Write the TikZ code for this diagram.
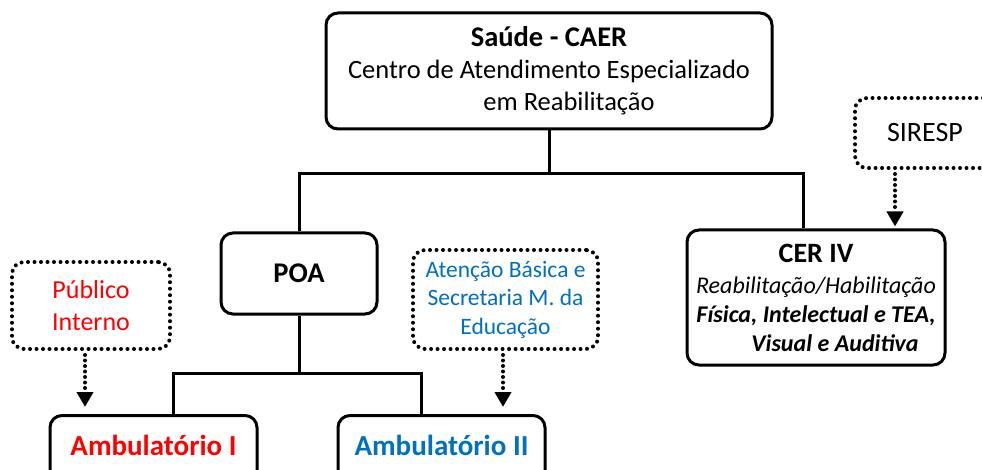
\documentclass[tikz,border=0pt]{standalone}
\usepackage{fontspec}
\setmainfont{Carlito}
\usepackage{tikz}
\usepackage{xcolor}
\usetikzlibrary{arrows.meta}
\definecolor{ambred}{RGB}{255,0,0}
\definecolor{ambblue}{RGB}{0,112,192}

\begin{document}
\begin{tikzpicture}[x=1pt,y=-1pt,
                            box/.style={draw,line width=3pt,rounded corners=12pt,align=center,inner sep=0pt},
                            src/.style={draw,line width=4pt,line cap=round,dash pattern=on 0pt off 6.5pt,
                                        rounded corners=12pt,align=center,inner sep=0pt},
                            conn/.style={line width=3pt},
                            feed/.style={line width=4pt,dash pattern=on 0pt off 5.5pt,line cap=round,
                                        -{Triangle[width=16pt,length=15pt]}}]
                            % Page
                            \clip (0,0) rectangle (982,470);

                            % Boxes
                            \node[box,minimum width=446,minimum height=116,
                                  font=\fontsize{26.5}{32}\selectfont] (caer) at (549,71)
                                  {{\fontsize{28.5}{32}\selectfont\bfseries Saúde - CAER}\\
                                  Centro de Atendimento Especializado\\
                                  \hspace*{40pt}em Reabilitação};
                            \node[box,minimum width=156,minimum height=81,
                                  font=\fontsize{28.5}{34}\selectfont\bfseries] (poa) at (299,273.5) {POA};
                            \node[box,minimum width=258,minimum height=135,
                                  font=\fontsize{24}{29}\selectfont] (cer) at (816,297.5)
                                  {{\fontsize{28}{29}\selectfont\bfseries CER IV}\\[2pt]
                                  \itshape Reabilitação/Habilitação\\
                                  \bfseries\itshape Física, Intelectual e TEA,\\
                                  \hspace*{38pt}\bfseries\itshape Visual e Auditiva};
                            \node[box,anchor=north,minimum width=207,text height=40pt,text depth=60pt,
                                  text=ambred,font=\fontsize{29}{34}\selectfont\bfseries] (amb1) at (153.5,414)
                                  {Ambulatório I};
                            \node[box,anchor=north,minimum width=207,text height=40pt,text depth=60pt,
                                  text=ambblue,font=\fontsize{29}{34}\selectfont\bfseries] (amb2) at (441.5,414)
                                  {Ambulatório II};

                            % Sources
                            \node[src,minimum width=158,minimum height=87,text=ambred,
                                  font=\fontsize{26}{31.5}\selectfont] (pub) at (91,305.5) {Público\\Interno};
                            \node[src,minimum width=185,minimum height=99,text=ambblue,
                                  font=\fontsize{23.5}{28.5}\selectfont] (basica) at (505.5,299.5)
                                  {Atenção Básica e\\Secretaria M. da\\Educação};
                            \node[src,minimum width=140,minimum height=70,
                                  font=\fontsize{28}{34}\selectfont] (siresp) at (925,133) {SIRESP};

                            % Tree lines
                            \draw[conn] (caer.south) -- ++(0,43) coordinate (hub);
                            \draw[conn] (poa.north) |- (hub) -| ([xshift=-13pt]cer.north);
                            \draw[conn] (poa.south) -- ++(0,58) coordinate (hubpoa);
                            \draw[conn] ([xshift=19.5pt]amb1.north) |- (hubpoa) -| ([xshift=-20.5pt]amb2.north);

                            % Dotted arrows
                            \draw[feed,shorten <=4pt,shorten >=7pt] ([xshift=-6pt]pub.south)
                            -- ([xshift=-6pt]pub.south |- amb1.north);
                            \draw[feed,shorten <=4pt,shorten >=7pt] ([xshift=-2.5pt]basica.south)
                            -- ([xshift=-2.5pt]basica.south |- amb2.north);
                            \draw[feed,shorten <=4pt,shorten >=2pt] ([xshift=-30pt]siresp.south)
                            -- ([xshift=-30pt]siresp.south |- cer.north);
                      \end{tikzpicture}
\end{document}
